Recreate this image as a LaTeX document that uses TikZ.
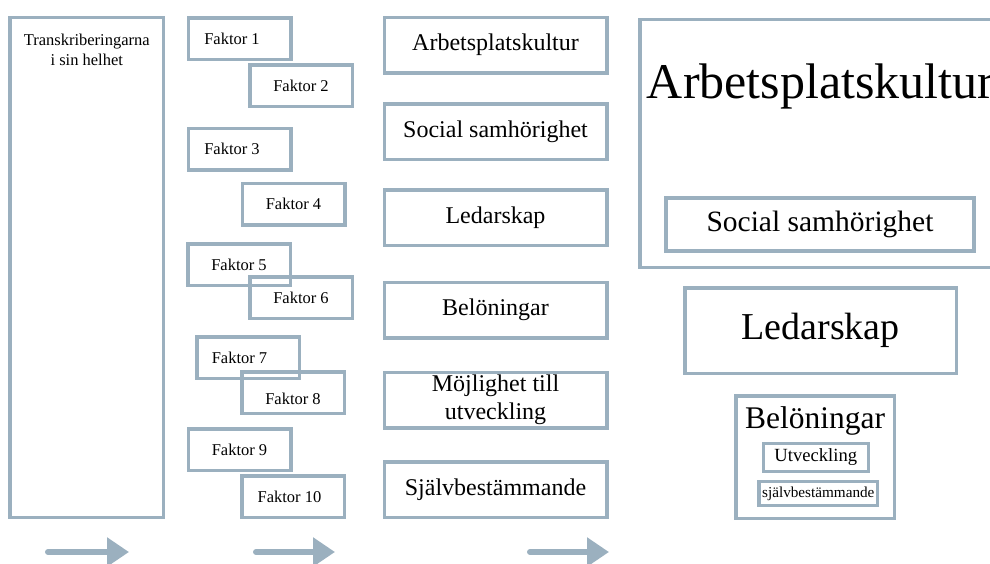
\documentclass[tikz,border=0pt]{standalone}
\usepackage{fontspec}
\setmainfont{Liberation Serif}
\usetikzlibrary{positioning}
\usetikzlibrary{arrows.meta}
\definecolor{frameblue}{RGB}{155,176,191}
\tikzset{>={Triangle[length=22pt,width=28pt]}}

\begin{document}
\begin{tikzpicture}[x=1pt, y=-1pt, boxline/.style={draw=frameblue, line width=3.5pt, inner sep=0pt}, factor/.style={boxline, minimum width=102.5pt, minimum height=41.5pt, font=\fontsize{16.5}{20}\selectfont}, theme/.style={boxline, minimum width=222.5pt, minimum height=55.5pt, align=center, font=\fontsize{24}{28}\selectfont}, flow/.style={->, draw=frameblue, line width=6pt, line cap=round}]

    \path[use as bounding box] (0,0) rectangle (990,563);
    \clip (0,0) rectangle (990,563);

    %Nodes
    \node[boxline, minimum width=153.5pt, minimum height=500pt](whole) at (86.75,267.5){};
    \node[inner sep=0pt, align=center, anchor=north, font=\fontsize{16.5}{20}\selectfont](wholetext) at (86.75,33.7){Transkriberingarna\\i sin helhet};

    \node[factor](f1) at (239.5,38.75){\hspace*{-15pt}Faktor 1};
    \node[factor](f2) at (301,85.5){Faktor 2};
    \node[factor](f3) at (239.5,149){\hspace*{-15pt}Faktor 3};
    \node[factor](f4) at (293.5,204){Faktor 4};
    \node[factor](f5) at (239,264.5){Faktor 5};
    \node[factor](f6) at (301,297.5){Faktor 6};
    \node[factor](f7) at (248,357.5){\hspace*{-17pt}Faktor 7};
    \node[factor, text height=25pt](f8) at (293,392.5){Faktor 8};
    \node[factor](f9) at (239.5,449.5){Faktor 9};
    \node[factor](f10) at (293,496.5){\hspace*{-7pt}Faktor 10};

    \node[theme](m1) at (495.5,45.2){Arbetsplatskultur};
    \node[theme](m2) at (495.5,131.7){Social samhörighet};
    \node[theme](m3) at (495.5,217.5){Ledarskap};
    \node[theme](m4) at (495.5,310){Belöningar};
    \node[theme](m5) at (495.5,400.2){Möjlighet till\\utveckling};
    \node[theme](m6) at (495.5,489.7){Självbestämmande};

    \node[boxline, minimum width=370pt, minimum height=248pt, anchor=north west](culture) at (638.3,17.7){};
    \node[anchor=base west, inner sep=0pt, font=\fontsize{50}{60}\selectfont](culturetext) at (646.7,98){Arbetsplatskultur};
    \node[boxline, minimum width=308pt, minimum height=53pt, font=\fontsize{29.5}{35}\selectfont](social) at (820,224.5){Social samhörighet};
    \node[boxline, minimum width=271.5pt, minimum height=85.3pt, font=\fontsize{38}{45}\selectfont](lead) at (820.7,330.7){Ledarskap};
    \node[boxline, minimum width=158.3pt, minimum height=122.5pt](reward) at (815.2,457.3){};
    \node[anchor=base, inner sep=0pt, font=\fontsize{31.5}{38}\selectfont](rewardtext) at (815,428.3){Belöningar};
    \node[boxline, minimum width=105pt, minimum height=28.4pt, font=\fontsize{18.6}{22}\selectfont](growth) at (815.8,457.5){Utveckling};
    \node[boxline, minimum width=118.7pt, minimum height=24pt, font=\fontsize{15.2}{18}\selectfont](autonomy) at (818.3,493.7){självbestämmande};

    \coordinate (a1) at (48,552);
    \coordinate (b1) at (129,552);
    \coordinate (a2) at (256,552);
    \coordinate (b2) at (335,552);
    \coordinate (a3) at (530,552);
    \coordinate (b3) at (609,552);

    %Lines
    \draw[flow] (a1) -- (b1);
    \draw[flow] (a2) -- (b2);
    \draw[flow] (a3) -- (b3);

\end{tikzpicture}
\end{document}
